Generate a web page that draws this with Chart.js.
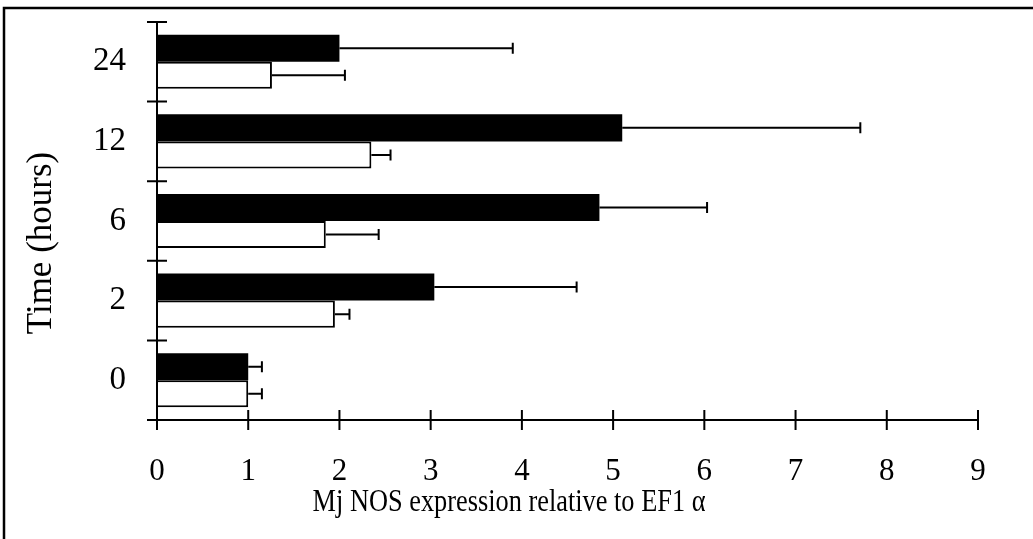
<!DOCTYPE html>
<html lang="en">

<head>
    <meta charset="UTF-8">
    <title>Mj NOS expression</title>
    <script src="https://cdn.jsdelivr.net/npm/chart.js"></script>
    <style>
        body { margin: 0; background: #fff; }
    </style>
</head>

<body>
    <canvas id="nosChart" width="1033" height="539"></canvas>

    <script>
        // time points, top to bottom as in the figure
        const hours = ['24', '12', '6', '2', '0'];
        // black bars (top of each pair) and their error
        const blackVals = [2.0, 5.1, 4.85, 3.04, 1.0];
        const blackErr = [1.9, 2.61, 1.18, 1.56, 0.15];
        // white bars (bottom of each pair) and their error
        const whiteVals = [1.26, 2.35, 1.85, 1.95, 1.0];
        const whiteErr = [0.8, 0.21, 0.58, 0.16, 0.15];
        const xTicks = [0, 1, 2, 3, 4, 5, 6, 7, 8, 9];
        const xTitle = 'Mj NOS expression relative to EF1 \u03b1';
        const yTitle = 'Time (hours)';

        const serif = '"Liberation Serif", "Times New Roman", serif';

        // error bars: line from bar end to value + err, with a cap
        const errorBars = {
            id: 'errorBars',
            afterDatasetsDraw(chart) {
                const ctx = chart.ctx;
                const xs = chart.scales.x;
                const errs = [blackErr, whiteErr];
                ctx.save();
                ctx.strokeStyle = '#000';
                ctx.lineWidth = 2;
                chart.data.datasets.forEach((ds, d) => {
                    chart.getDatasetMeta(d).data.forEach((bar, i) => {
                        const x1 = xs.getPixelForValue(ds.data[i] + errs[d][i]);
                        ctx.beginPath();
                        ctx.moveTo(bar.x, bar.y);
                        ctx.lineTo(x1, bar.y);
                        ctx.moveTo(x1, bar.y - 5.5);
                        ctx.lineTo(x1, bar.y + 5.5);
                        ctx.stroke();
                    });
                });
                ctx.restore();
            }
        };

        // axis lines with ticks crossing them, axis titles and the frame
        const axesFrame = {
            id: 'axesFrame',
            afterDraw(chart) {
                const ctx = chart.ctx;
                const xs = chart.scales.x;
                const ys = chart.scales.y;
                const x0 = xs.getPixelForValue(0);
                const bottom = ys.bottom;
                ctx.save();
                ctx.strokeStyle = '#000';
                ctx.lineWidth = 2;
                ctx.beginPath();
                ctx.moveTo(x0, ys.top);
                ctx.lineTo(x0, bottom + 10);
                ctx.moveTo(x0 - 10, bottom);
                ctx.lineTo(xs.getPixelForValue(9), bottom);
                const band = (ys.bottom - ys.top) / hours.length;
                for (let k = 0; k <= hours.length; k++) {
                    const y = ys.top + k * band;
                    ctx.moveTo(x0 - 10, y);
                    ctx.lineTo(x0 + 10, y);
                }
                xTicks.forEach(v => {
                    const x = xs.getPixelForValue(v);
                    ctx.moveTo(x, bottom - 10);
                    ctx.lineTo(x, bottom + 10);
                });
                ctx.stroke();

                // titles (slightly condensed, like the original)
                ctx.fillStyle = '#000';
                ctx.textAlign = 'center';
                ctx.textBaseline = 'middle';
                ctx.save();
                ctx.translate(509, 503);
                ctx.scale(0.85, 1);
                ctx.font = '31px ' + serif;
                ctx.fillText(xTitle, 0, 0);
                ctx.restore();

                ctx.save();
                ctx.translate(42, 243);
                ctx.rotate(-Math.PI / 2);
                ctx.font = '35px ' + serif;
                ctx.fillText(yTitle, 0, 0);
                ctx.restore();

                // outer frame, top and left only
                ctx.lineWidth = 2.5;
                ctx.beginPath();
                ctx.moveTo(4, 539);
                ctx.lineTo(4, 8);
                ctx.lineTo(1033, 8);
                ctx.stroke();
                ctx.restore();
            }
        };

        new Chart(document.getElementById('nosChart'), {
            type: 'bar',
            data: {
                labels: hours,
                datasets: [{
                    data: blackVals,
                    backgroundColor: '#000',
                    borderWidth: 0
                }, {
                    data: whiteVals,
                    backgroundColor: '#fff',
                    borderColor: '#000',
                    borderWidth: 2
                }]
            },
            options: {
                indexAxis: 'y',
                responsive: false,
                animation: false,
                categoryPercentage: 0.68,
                barPercentage: 1.0,
                layout: { padding: { top: 22, right: 55, left: 0, bottom: 0 } },
                plugins: {
                    legend: { display: false },
                    tooltip: { enabled: false }
                },
                scales: {
                    x: {
                        min: 0,
                        max: 9,
                        afterFit(scale) {
                            scale.height = 119;
                            scale.paddingLeft = 0;
                            scale.paddingRight = 0;
                        },
                        afterBuildTicks(scale) { scale.ticks = xTicks.map(v => ({ value: v })); },
                        grid: { display: false, drawTicks: false },
                        border: { display: false },
                        ticks: {
                            color: '#000',
                            padding: 33,
                            font: { family: serif, size: 31 }
                        }
                    },
                    y: {
                        afterFit(scale) {
                            scale.width = 157;
                            scale.paddingTop = 0;
                            scale.paddingBottom = 0;
                        },
                        grid: { display: false, drawTicks: false },
                        border: { display: false },
                        ticks: {
                            color: '#000',
                            padding: 31,
                            font: { family: serif, size: 33 }
                        }
                    }
                }
            },
            plugins: [errorBars, axesFrame]
        });
    </script>
</body>

</html>
